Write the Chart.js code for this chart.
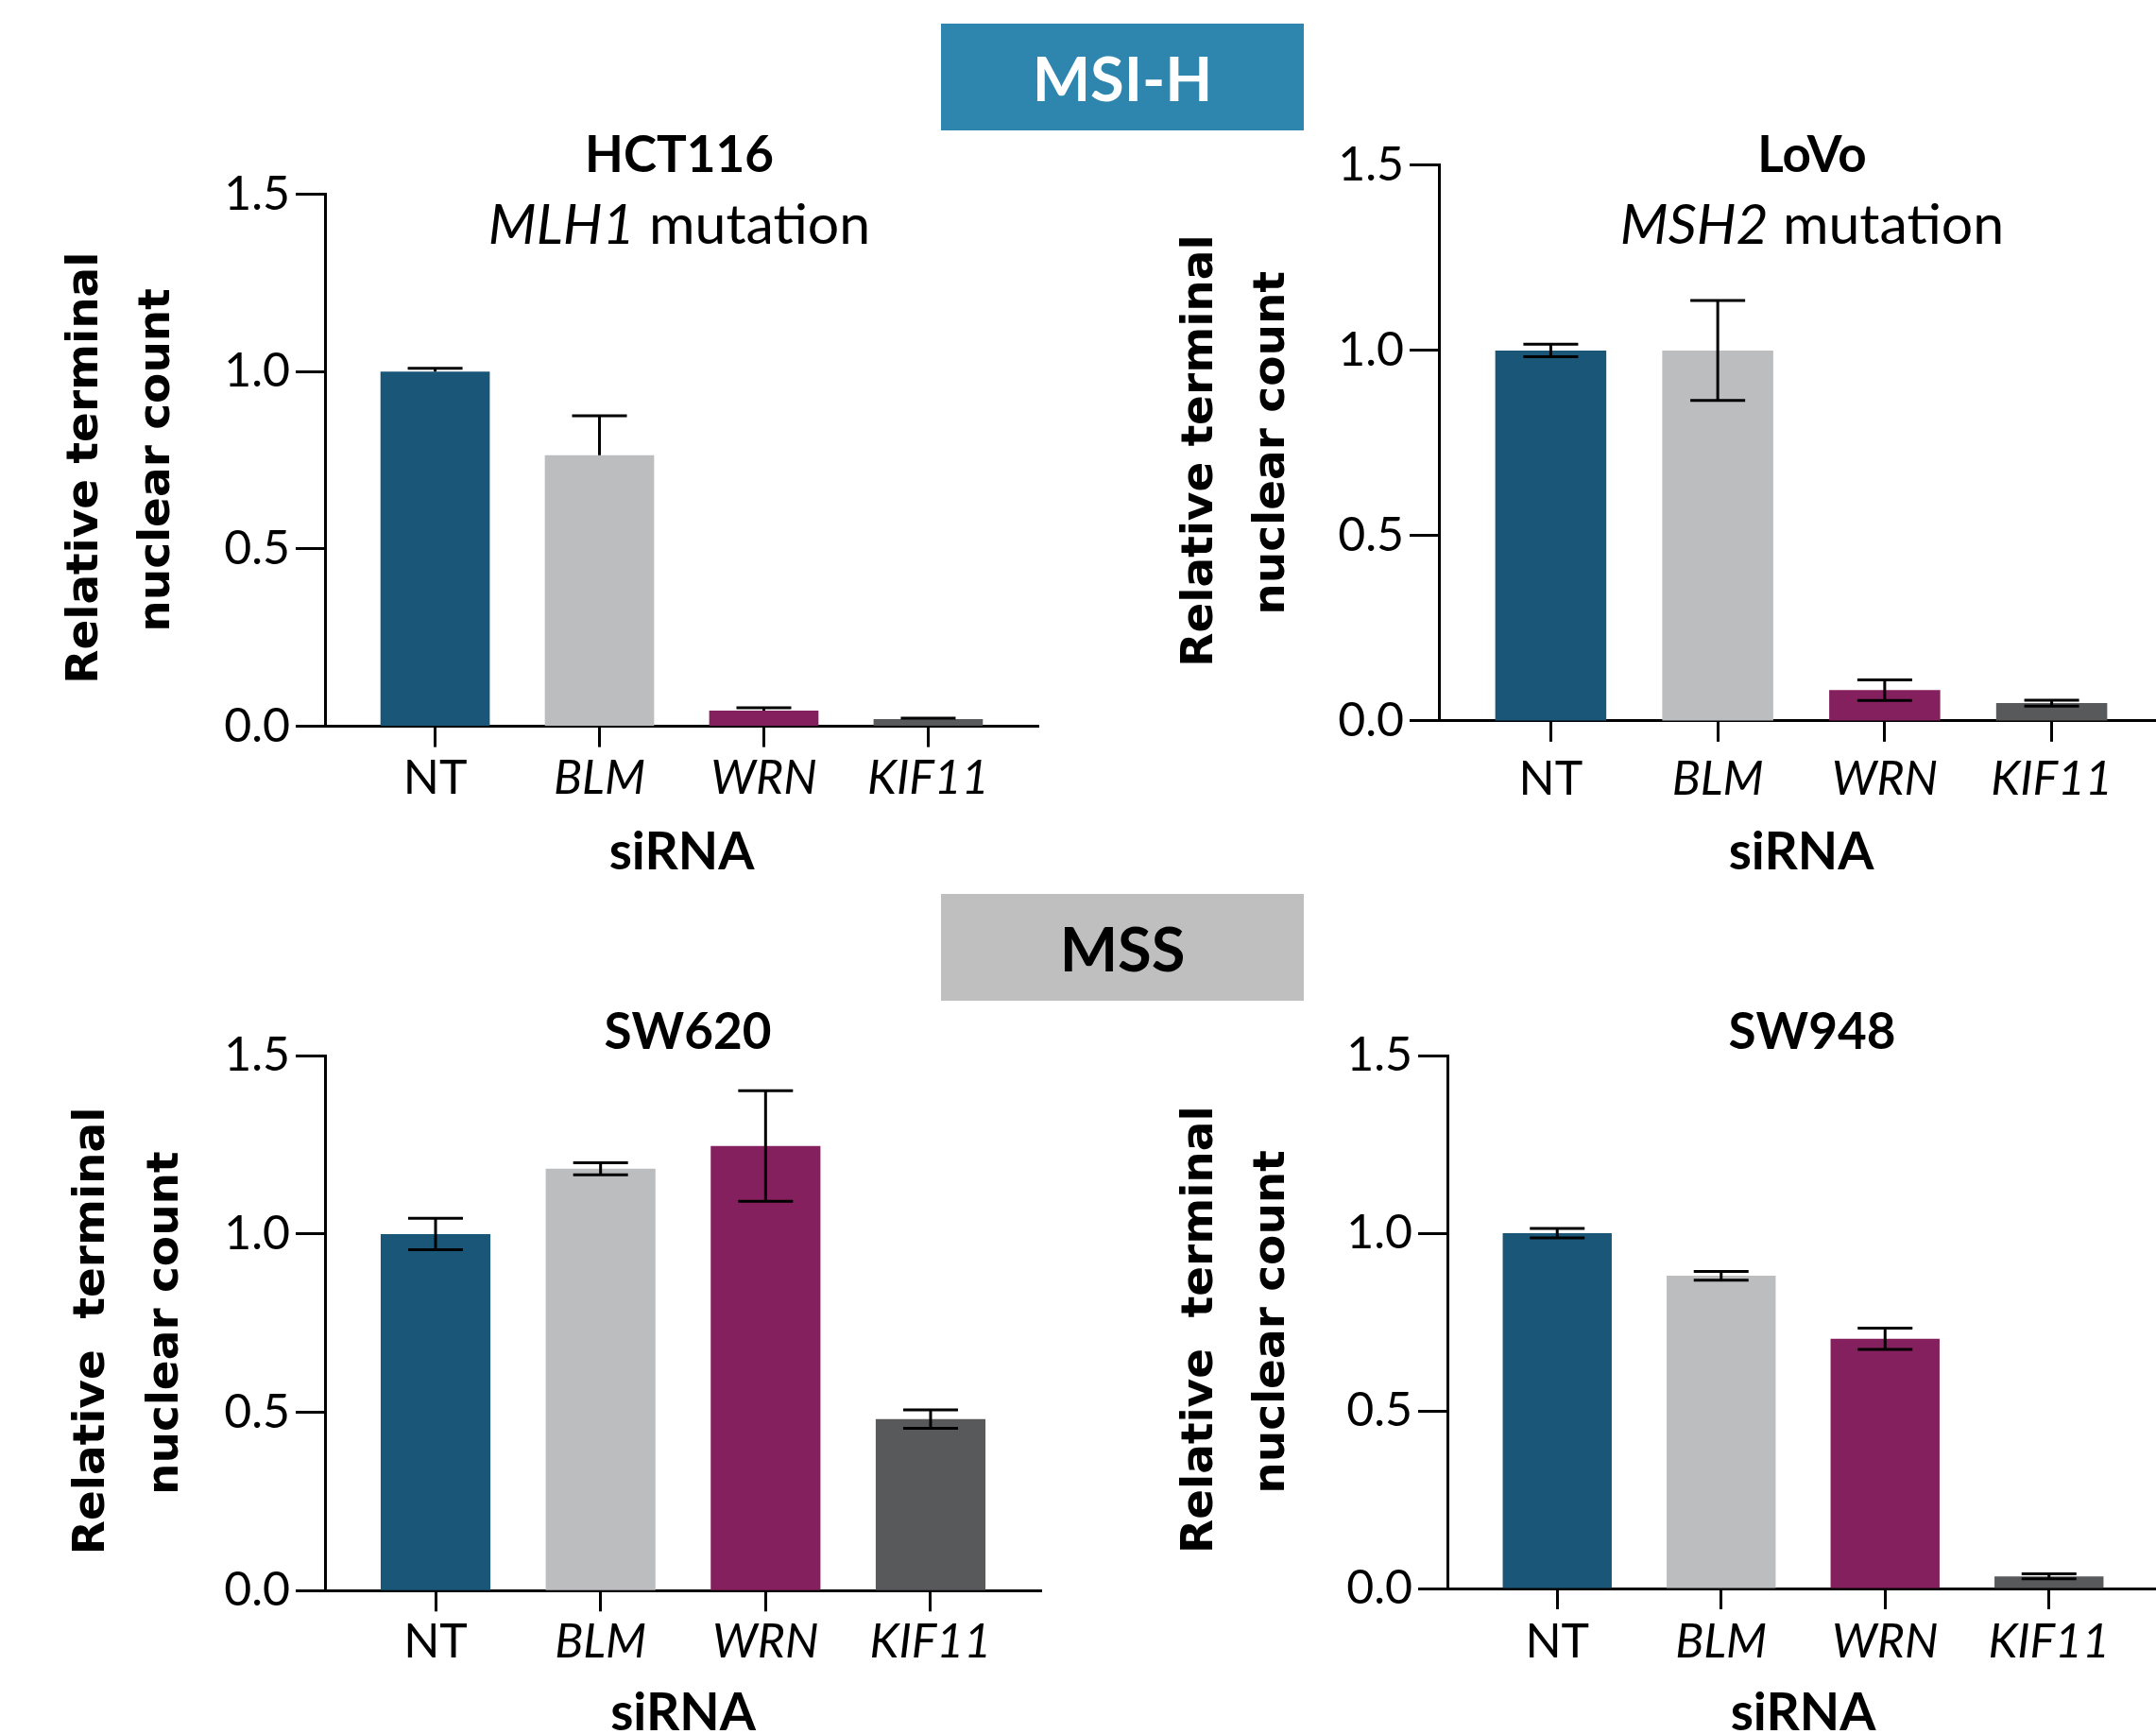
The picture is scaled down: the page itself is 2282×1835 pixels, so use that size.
<!DOCTYPE html>
<html>
<head>
<meta charset="utf-8">
<script src="https://cdn.jsdelivr.net/npm/chart.js@4.4.1/dist/chart.umd.min.js"></script>
<style>
  body { margin: 0; width: 2282px; height: 1835px; overflow: hidden; background: #fff; position: relative; }
  canvas { position: absolute; }
  .tag { position: absolute; left: 996px; width: 384px; height: 113px; z-index: 2;
         display: flex; align-items: center; justify-content: center;
         font-family: Lato; font-weight: bold; font-size: 65px; }
</style>
</head>
<body>
<div class="tag" style="top:25px;background:#2e86ae;color:#fff">MSI-H</div>
<div class="tag" style="top:946px;background:#bfbfbf;color:#000">MSS</div>
<canvas id="hct116" width="1141" height="940" style="left:0;top:0"></canvas>
<canvas id="lovo" width="1160" height="940" style="left:1141px;top:0"></canvas>
<canvas id="sw620" width="1141" height="915" style="left:0;top:920px"></canvas>
<canvas id="sw948" width="1160" height="915" style="left:1141px;top:920px"></canvas>
<script>
// --- données ---
const siRNAs = ['NT', 'BLM', 'WRN', 'KIF11'];
const italicGene = [false, true, true, true];
const yTicks = [0, 0.5, 1.0, 1.5];

const hct116Mean = [1.0, 0.764, 0.044, 0.020];
const hct116Err  = [0.009, 0.111, 0.008, 0.003];
const lovoMean   = [1.0, 1.0, 0.083, 0.048];
const lovoErr    = [0.017, 0.135, 0.028, 0.008];
const sw620Mean  = [1.0, 1.183, 1.247, 0.481];
const sw620Err   = [0.044, 0.017, 0.155, 0.026];
const sw948Mean  = [1.0, 0.880, 0.703, 0.034];
const sw948Err   = [0.013, 0.012, 0.030, 0.007];

const barColors = ['#1a5678', '#bcbdbf', '#84205e', '#58595b'];

// barres d'erreur (moyenne +/- err), caps en noir
function errorBarPlugin(means, errs, upperOnly) {
    return {
        id: 'errorBars',
        afterDatasetsDraw(chart) {
            const { ctx, scales: { x, y } } = chart;
            ctx.save();
            ctx.strokeStyle = '#000';
            ctx.lineWidth = 3;
            means.forEach((m, i) => {
                const px = x.getPixelForValue(i);
                const top = y.getPixelForValue(m + errs[i]);
                const bot = y.getPixelForValue(upperOnly ? m : m - errs[i]);
                ctx.beginPath();
                ctx.moveTo(px, top); ctx.lineTo(px, bot);
                ctx.moveTo(px - 29, top); ctx.lineTo(px + 29, top);
                if (!upperOnly) { ctx.moveTo(px - 29, bot); ctx.lineTo(px + 29, bot); }
                ctx.stroke();
            });
            ctx.restore();
        }
    };
}

// titre de la lignée + sous-titre (gène en italique)
function titlePlugin(p) {
    return {
        id: 'panelTitle',
        afterDraw(chart) {
            const ctx = chart.ctx;
            ctx.save();
            ctx.fillStyle = '#000';
            ctx.textBaseline = 'alphabetic';
            ctx.textAlign = 'center';
            ctx.font = 'bold 53px Lato';
            ctx.fillText(p.name, p.titleX, p.nameY);
            if (p.gene) {
                const italic = 'italic 59px Lato', plain = '59px Lato', rest = ' mutation';
                ctx.textAlign = 'left';
                ctx.font = italic; const w1 = ctx.measureText(p.gene).width;
                ctx.font = plain; const w2 = ctx.measureText(rest).width;
                const x0 = p.titleX - (w1 + w2) / 2;
                ctx.font = italic; ctx.fillText(p.gene, x0, p.subY);
                ctx.font = plain; ctx.fillText(rest, x0 + w1, p.subY);
            }
            ctx.restore();
        }
    };
}

function makePanel(id, means, errs, p) {
    const ctx = document.getElementById(id).getContext('2d');
    return new Chart(ctx, {
        type: 'bar',
        data: {
            datasets: [{
                data: means.map((v, i) => ({ x: i, y: v })),
                backgroundColor: barColors,
                borderWidth: 0,
                barPercentage: 0.665,
                categoryPercentage: 1
            }]
        },
        options: {
            responsive: false, animation: false,
            layout: { padding: { top: p.top, right: p.right, left: 0, bottom: 0 } },
            plugins: { legend: { display: false }, tooltip: { enabled: false }, title: { display: false } },
            scales: {
                x: {
                    type: 'linear', min: -0.67, max: 3.67, offset: false, bounds: 'data',
                    afterBuildTicks: s => { s.ticks = siRNAs.map((_, i) => ({ value: i })); },
                    ticks: {
                        callback: (v, i) => siRNAs[i], autoSkip: false, maxRotation: 0,
                        color: '#000', padding: p.xTickPad,
                        font: c => ({ family: 'Lato', size: 50, style: italicGene[c.index] ? 'italic' : 'normal' })
                    },
                    grid: { offset: false, drawOnChartArea: false, drawTicks: true, tickLength: 22, tickWidth: 3, tickColor: '#000' },
                    border: { color: '#000', width: 3 },
                    title: {
                        display: true, text: 'siRNA', color: '#000',
                        font: { family: 'Lato', weight: 'bold', size: 55, lineHeight: 1 },
                        padding: { bottom: p.xTitlePad }
                    },
                    afterFit: s => { s.height = p.axisHeight; }
                },
                y: {
                    min: 0, max: 1.5,
                    afterBuildTicks: s => { s.ticks = yTicks.map(v => ({ value: v })); },
                    ticks: { callback: v => v.toFixed(1), color: '#000', padding: 6, font: { family: 'Lato', size: 50 } },
                    grid: { drawOnChartArea: false, drawTicks: true, tickLength: 31, tickWidth: 3, tickColor: '#000' },
                    border: { color: '#000', width: 3 },
                    title: {
                        display: true, text: p.yTitle, color: '#000',
                        font: { family: 'DejaVu Sans', weight: 'bold', size: 47, lineHeight: p.yLine },
                        padding: { top: p.yTitlePad }
                    },
                    afterFit: s => { s.width = p.axisLeft; }
                }
            }
        },
        plugins: [errorBarPlugin(means, errs, p.upperOnly), titlePlugin(p)]
    });
}

makePanel('hct116', hct116Mean, hct116Err, {
    top: 205.4, right: 42, axisHeight: 171.4, axisLeft: 344, xTitlePad: 10, xTickPad: 3,
    yTitle: ['Relative terminal ', 'nuclear count'], yLine: 1.62, yTitlePad: 53,
    upperOnly: true, name: 'HCT116', gene: 'MLH1', titleX: 719, nameY: 182, subY: 258
});
makePanel('lovo', lovoMean, lovoErr, {
    top: 174.9, right: 11, axisHeight: 177.1, axisLeft: 382, xTitlePad: 10, xTickPad: 10,
    yTitle: ['Relative terminal ', 'nuclear count'], yLine: 1.62, yTitlePad: 92,
    upperOnly: false, name: 'LoVo', gene: 'MSH2', titleX: 777, nameY: 182, subY: 258
});
makePanel('sw620', sw620Mean, sw620Err, {
    top: 197.2, right: 39, axisHeight: 151.7, axisLeft: 344, xTitlePad: -5.5, xTickPad: 3,
    yTitle: ['Relative  terminal ', 'nuclear count'], yLine: 1.66, yTitlePad: 59,
    upperOnly: false, name: 'SW620', gene: null, titleX: 728, nameY: 190
});
makePanel('sw948', sw948Mean, sw948Err, {
    top: 197, right: 16, axisHeight: 154, axisLeft: 391, xTitlePad: -5.5, xTickPad: 5,
    yTitle: ['Relative  terminal ', 'nuclear count'], yLine: 1.62, yTitlePad: 92,
    upperOnly: false, name: 'SW948', gene: null, titleX: 777, nameY: 190
});
</script>
</body>
</html>
